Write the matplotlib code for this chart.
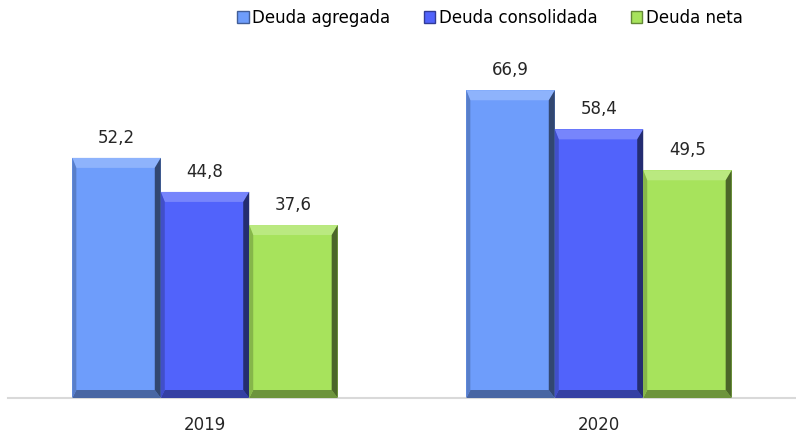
import matplotlib
matplotlib.use("Agg")
import matplotlib.pyplot as plt
from matplotlib.patches import Polygon, Patch
import numpy as np

years = ["2019", "2020"]
series = ["Deuda agregada", "Deuda consolidada", "Deuda neta"]
values = {
    "Deuda agregada": [52.2, 66.9],
    "Deuda consolidada": [44.8, 58.4],
    "Deuda neta": [37.6, 49.5],
}
colors = ["#6E9DFB", "#5163FB", "#A7E35C"]

def shade(c, f):
    rgb = np.array(matplotlib.colors.to_rgb(c))
    if f >= 0:
        rgb = rgb + (1 - rgb) * f
    else:
        rgb = rgb * (1 + f)
    return tuple(np.clip(rgb, 0, 1))

fig = plt.figure(figsize=(7.96, 4.38), dpi=100)
ax = fig.add_axes([8 / 796, 40 / 438, 788 / 796, 345 / 438])
x = np.arange(len(years))
w = 88 / 392
ax.set_xlim(-0.5, 1.5)
ax.set_ylim(0, 75)

fig.canvas.draw()
p0 = ax.transData.inverted().transform((0, 0))
p1 = ax.transData.inverted().transform((1, 1))
dx = p1[0] - p0[0]
dy = p1[1] - p0[1]

handles = []
for i, s in enumerate(series):
    pos = x + (i - 1) * w
    bars = ax.bar(pos, values[s], width=w, color=colors[i], edgecolor="none", zorder=2)
    for b, v in zip(bars, values[s]):
        x0 = b.get_x(); x1 = x0 + b.get_width(); y0 = 0; y1 = b.get_height()
        bt = 10 * dy; bb = 8 * dy; bl = 4 * dx; br = 6 * dx
        ax.add_patch(Polygon([(x0, y1), (x1, y1), (x1 - br, y1 - bt), (x0 + bl, y1 - bt)],
                             closed=True, color=shade(colors[i], 0.22), lw=0, zorder=3))
        ax.add_patch(Polygon([(x0, y0), (x1, y0), (x1 - br, y0 + bb), (x0 + bl, y0 + bb)],
                             closed=True, color=shade(colors[i], -0.35), lw=0, zorder=3))
        ax.add_patch(Polygon([(x0, y0), (x0, y1), (x0 + bl, y1 - bt), (x0 + bl, y0 + bb)],
                             closed=True, color=shade(colors[i], -0.2), lw=0, zorder=3))
        ax.add_patch(Polygon([(x1, y0), (x1, y1), (x1 - br, y1 - bt), (x1 - br, y0 + bb)],
                             closed=True, color=shade(colors[i], -0.55), lw=0, zorder=3))
        ax.text(b.get_x() + b.get_width() / 2, v + 2.4, f"{v:.1f}".replace(".", ","),
                ha="center", va="bottom", fontsize=12, color="#262626")
    handles.append(Patch(facecolor=colors[i], edgecolor=shade(colors[i], -0.4), label=s))

ax.set_xticks(x)
ax.set_xticklabels(years, fontsize=12, color="#262626")
ax.tick_params(axis="x", length=0, pad=13)
ax.set_yticks([])
for sp in ["top", "left", "right"]:
    ax.spines[sp].set_visible(False)
ax.spines["bottom"].set_color("#D9D9D9")
ax.spines["bottom"].set_linewidth(1.5)

fig.legend(handles=handles, loc="center", bbox_to_anchor=(490 / 796, 1 - 18 / 438),
           ncol=3, frameon=False, fontsize=12, handlelength=0.7, handleheight=0.7,
           handletextpad=0.2, columnspacing=2.0)

fig.savefig("out.png", dpi=100)
